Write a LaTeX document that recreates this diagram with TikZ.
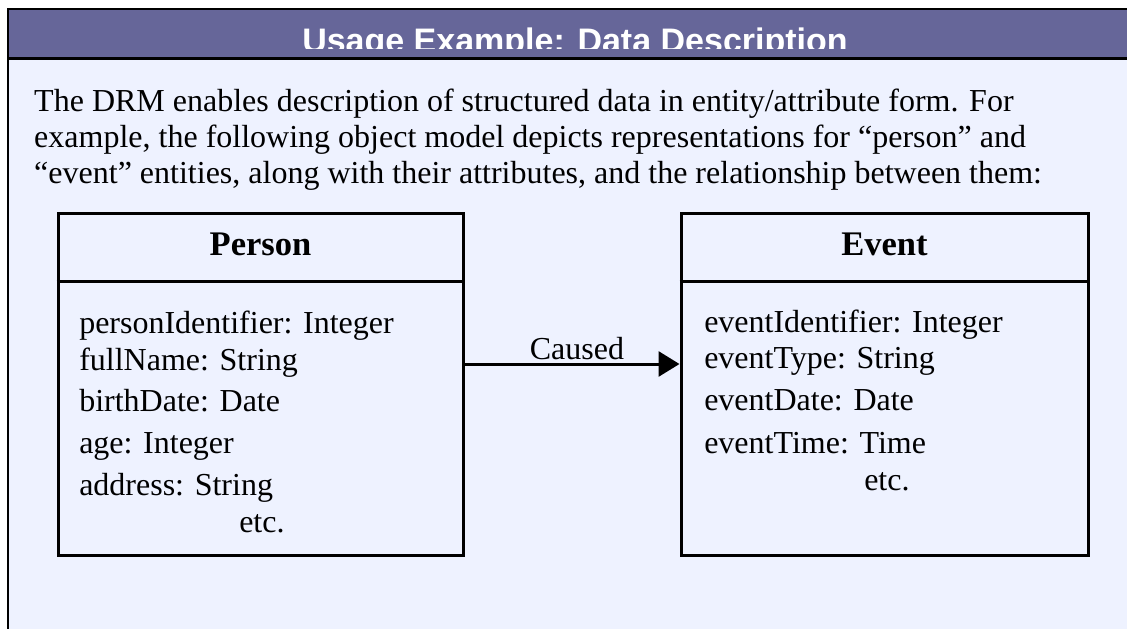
\documentclass[tikz,border=0pt]{standalone}
\usepackage{fontspec}
\setmainfont{Liberation Serif}
\newfontfamily\titlefont{Liberation Sans}
\usetikzlibrary{arrows.meta}

\definecolor{barblue}{RGB}{102,102,153}
\definecolor{pageblue}{RGB}{238,242,255}

\tikzset{
  txt/.style={anchor=base west, inner sep=0pt, font=\fontsize{32}{36}\selectfont},
  head/.style={anchor=base, inner sep=0pt, font=\fontsize{34.5}{40}\selectfont\bfseries},
  umlbox/.style={draw, line width=3pt, inner sep=0pt, minimum height=342pt},
  assoc/.style={line width=3pt, -{Triangle[length=21pt,width=25pt]}}
}

\begin{document}
\begin{tikzpicture}[x=1pt,y=-1pt,line width=2.5pt]
		\useasboundingbox (0,0) rectangle (1127,629);
		\clip (0,0) rectangle (1127,629);
		\draw[fill=pageblue] (8,9) rectangle (1145,640);
		\draw[fill=barblue] (8,9) rectangle (1145,58.5);
		\begin{scope}
			\clip (8,9) rectangle (1145,48);
			\node[anchor=base, inner sep=0pt, text=white, font=\titlefont\fontsize{34}{40}\selectfont\bfseries] (title) at (575,52.5) {Usage Example: Data Description};
		\end{scope}
		\path (33,111) node[txt] (line1) {The DRM enables description of structured data in entity/attribute form. For}
		      (33,147) node[txt] (line2) {example, the following object model depicts representations for “person” and}
		      (33,183) node[txt] (line3) {“event” entities, along with their attributes, and the relationship between them:};
		\node[umlbox, minimum width=405pt] (person) at (260.5,384) {};
		\node[umlbox, minimum width=407pt] (event) at (884.5,384) {};
		\coordinate (divide) at (0,281);
		\draw[line width=3pt] (person.west |- divide) -- (person.east |- divide);
		\draw[line width=3pt] (event.west |- divide) -- (event.east |- divide);
		\path (260.5,255) node[head] (personhead) {Person} (884.5,255) node[head] (eventhead) {Event};
		\path (78,333) node[txt] (pa1) {personIdentifier: Integer}
		      (78,370) node[txt] (pa2) {fullName: String}
		      (78,411) node[txt] (pa3) {birthDate: Date}
		      (78,453) node[txt] (pa4) {age: Integer}
		      (78,495) node[txt] (pa5) {address: String}
		      (238,532) node[txt] (pa6) {etc.};
		\path (703,332) node[txt] (ea1) {eventIdentifier: Integer}
		      (703,368) node[txt] (ea2) {eventType: String}
		      (703,410) node[txt] (ea3) {eventDate: Date}
		      (703,453) node[txt] (ea4) {eventTime: Time}
		      (863,490) node[txt] (ea5) {etc.};
		\coordinate (level) at (0,364);
		\draw[assoc] (person.east |- level) -- node[above, inner sep=0pt, xshift=5pt, yshift=3pt, font=\fontsize{32}{36}\selectfont] (caused) {Caused} (event.west |- level);
	\end{tikzpicture}
\end{document}
